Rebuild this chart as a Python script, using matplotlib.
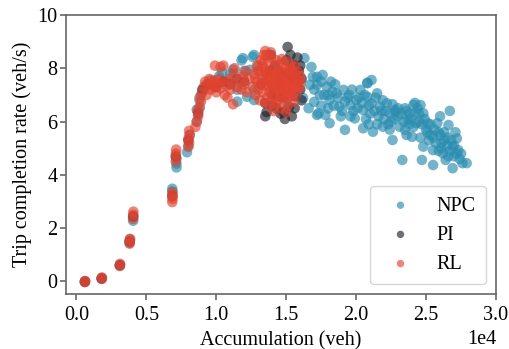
import matplotlib
matplotlib.use("Agg")
import matplotlib.pyplot as plt

# ---------------- data ----------------
npc_x = [600, 1800, 3100, 3800, 3820, 4050, 4060, 6850, 6850, 7150, 7150, 7150,
         7900, 8000, 8100, 8600, 8600, 8800, 8800, 8900, 9100, 9300, 9600, 9900,
         10200, 10400, 10700, 11000, 11200, 11500, 11500, 11800, 12000, 12200, 12400,
         12600, 12700, 12700, 12700, 11900,
         13000, 13500, 14000, 14500, 15000, 15500, 16200, 16300, 16600, 16700, 16800,
         17000, 17200, 17200,
         16900, 17600, 17200, 17900, 18300, 17400, 18100, 18600, 19100, 19200, 18800,
         19600, 20000, 20300, 20800, 20800, 20500, 21100, 21500, 21700, 22200, 22400,
         22800, 17300, 17800, 18100, 19200, 19900, 20500, 21200, 21900, 22600,
         22800, 23500, 24100, 24600, 24200, 24800, 23700, 23100, 24000, 25100, 25800,
         25300, 26000, 26600, 26700, 24800, 25500, 26200, 26900, 27300, 26400, 26900,
         27600, 27900, 23300, 24700, 25500, 27200, 24300, 23500,
         20800, 21100,
         18500, 19500, 20100, 21000, 21400, 22000, 22500, 23000, 23800, 24500, 25000,
         25600, 26300, 26500, 27000, 27400, 23800, 22600, 19800, 18400, 17700, 20700,
         21800, 25200, 26100, 27100, 24400, 26000,
         17000, 17500, 18000, 18200, 18700, 19000, 19400, 19700, 20200, 20400, 20600,
         20900, 21300, 21600, 21900, 22100, 22300, 22700, 23000, 23200, 23400, 23600,
         23900, 24100, 24200, 24500, 24700, 24900, 25100, 25300, 25500, 25700, 25900,
         26100, 26300, 26500, 26700, 26800, 27000, 27200, 27500, 26600, 25900, 24600,
         23600, 22400, 21500, 20900, 19600, 18900, 18000, 17500]
npc_y = [-0.02, 0.10, 0.60, 1.45, 1.58, 2.28, 2.42, 3.38, 3.48, 4.28, 4.42, 4.60,
         4.85, 5.10, 5.50, 6.00, 6.45, 6.50, 6.80, 7.00, 7.20, 7.40, 7.55, 7.30,
         7.70, 7.85, 7.50, 7.80, 7.95, 7.20, 6.75, 8.30, 7.90, 6.93, 7.94,
         8.43, 8.50, 6.81, 7.19, 8.38,
         8.10, 7.60, 7.30, 7.50, 7.20, 7.80, 6.89, 8.38, 6.50, 7.38, 8.05,
         6.74, 7.68, 6.25,
         7.68, 7.75, 7.38, 7.31, 7.12, 7.00, 6.81, 7.06, 7.19, 6.75, 6.56,
         6.62, 6.81, 7.19, 7.44, 6.93, 6.44, 6.69, 7.06, 6.56, 6.69, 6.31,
         6.44, 6.31, 6.25, 5.94, 5.69, 6.12, 5.75, 5.62, 5.81, 5.31,
         6.37, 6.50, 6.62, 6.62, 6.31, 6.31, 6.06, 5.81, 5.43, 5.94, 5.94,
         5.50, 5.50, 5.87, 6.40, 5.06, 4.93, 4.81, 5.06, 4.93, 4.56, 4.25,
         4.44, 4.44, 4.56, 4.56, 4.37, 5.37, 5.94, 5.69,
         7.46, 7.56,
         7.40, 7.00, 6.50, 6.30, 6.90, 6.10, 6.00, 6.20, 6.30, 6.00, 5.70,
         5.70, 5.30, 5.10, 4.70, 4.60, 5.90, 6.65, 6.40, 6.60, 7.00, 6.10,
         6.40, 5.30, 5.20, 5.60, 6.50, 6.20,
         7.20, 7.50, 7.00, 7.50, 6.90, 6.40, 6.90, 7.20, 6.90, 6.70, 7.00,
         6.60, 6.40, 6.20, 6.80, 6.40, 5.90, 6.10, 6.50, 6.30, 6.00, 6.40,
         6.10, 5.80, 6.70, 6.30, 5.90, 6.10, 5.60, 5.90, 5.40, 5.20, 5.60,
         5.00, 5.60, 5.40, 4.90, 5.30, 5.10, 4.80, 4.80, 4.70, 4.90, 5.40,
         5.50, 5.70, 5.90, 5.90, 6.20, 6.20, 6.50, 6.60]

pi_x = [600, 1800, 3100, 3800, 4050, 6850, 7100, 8000, 8700, 9000, 9500, 10000,
        10500, 11000, 11500, 12000,
        13200, 13500, 13600, 13500, 13800, 14000, 14200, 14300, 14500, 14600, 14700,
        14800, 14800, 15000, 15100, 15100, 15200, 15400, 15400, 15500, 15600, 15600,
        15700, 15800, 15900, 16000, 16100, 16100, 14900, 14000, 13900, 15300, 16000,
        14400, 15200]
pi_y = [0.00, 0.12, 0.62, 1.50, 2.45, 3.20, 4.70, 5.30, 6.30, 7.20, 7.40, 7.30,
        7.50, 7.40, 7.60, 7.50,
        7.40, 6.70, 6.36, 6.20, 7.90, 7.00, 8.10, 6.50, 7.40, 6.30, 7.80,
        6.36, 6.90, 8.30, 8.80, 7.20, 6.55, 6.20, 7.60, 8.12, 6.50, 6.95,
        7.50, 8.40, 7.90, 7.20, 6.80, 7.60, 6.10, 6.60, 8.50, 8.50, 8.10,
        6.95, 7.80]

rl_x = [600, 620, 1800, 1820, 3100, 3120, 3800, 3820, 3830, 4050, 4060, 4070,
        6850, 6870, 6880, 6860, 7100, 7120, 7110, 7130,
        8000, 8050, 8000, 8100, 8050, 8500, 8600, 8700, 8650, 8800, 8900, 8800,
        9000, 9100, 9200, 9300, 9400, 9500, 9600, 9700, 9800, 9900, 10000, 10100,
        10200, 10300, 10300, 10500, 10600, 10700, 10800, 10900, 11000, 11100, 11200,
        11250, 11300, 11500, 11600, 11800, 11900, 12000, 12100, 12200, 12300, 9900, 10500,
        12600, 12700, 12800, 12900, 12900, 13000, 13100, 13100, 13200, 13300, 13300,
        13400, 13500, 13500, 13600, 13700, 13700, 13800, 13800, 13900, 13900, 14000,
        14000, 14100, 14200, 14200, 14300, 14300, 14400, 14400, 14500, 14500, 14600,
        14600, 14700, 14700, 14800, 14800, 14900, 14900, 15000, 15000, 15100, 15100,
        15200, 15200, 15300, 15300, 15400, 15400, 15500, 15500, 15600, 15600, 15700,
        15800, 15900, 16000, 13600, 14100, 15000, 13500, 13900, 14200, 14600, 15200,
        12800, 13000, 13200, 13400, 13600, 13800, 14000, 14200, 14400, 14600, 14800,
        15000, 15200, 15400, 15600, 15800, 16000, 13300, 13700, 14100, 14500, 14900,
        15300, 15700, 13500, 14300, 15100, 15900]
rl_y = [-0.02, 0.02, 0.10, 0.15, 0.58, 0.66, 1.42, 1.52, 1.60, 2.35, 2.50, 2.62,
        2.98, 3.10, 3.25, 3.35, 4.50, 4.65, 4.80, 4.95,
        5.05, 5.20, 5.35, 5.50, 5.65, 5.80, 6.00, 6.20, 6.40, 6.55, 6.75, 6.90,
        7.10, 7.30, 7.50, 7.00, 7.40, 7.60, 7.20, 7.45, 7.30, 7.55, 7.10, 7.40,
        7.60, 7.25, 8.05, 7.50, 7.00, 7.35, 6.90, 7.60, 7.20, 7.45, 6.65,
        7.80, 8.00, 7.30, 7.55, 7.20, 7.70, 7.40, 7.90, 7.10, 7.60, 8.10, 8.10,
        7.30, 7.80, 7.00, 8.10, 7.50, 7.20, 7.90, 6.80, 8.30, 7.60, 7.10,
        8.50, 7.85, 7.35, 6.90, 8.20, 7.60, 7.10, 6.60, 8.40, 7.85, 7.40,
        6.95, 8.00, 7.65, 7.20, 8.30, 6.70, 7.90, 7.45, 7.00, 8.15, 7.60,
        6.50, 7.25, 8.35, 7.80, 6.85, 7.40, 8.05, 7.10, 7.65, 8.25, 6.60,
        7.85, 7.30, 6.95, 8.00, 7.55, 7.15, 7.80, 6.75, 7.40, 8.10, 7.00,
        7.60, 7.25, 7.70, 8.50, 6.40, 6.35, 8.65, 8.60, 7.75, 7.05, 7.95,
        7.60, 7.90, 7.40, 8.00, 7.70, 7.30, 7.80, 7.50, 7.20, 7.90, 7.50,
        7.40, 7.10, 7.90, 7.30, 7.90, 7.40, 8.20, 7.50, 7.30, 7.70, 7.20,
        7.60, 7.30, 6.70, 6.80, 6.90, 7.50]

series = ["NPC", "PI", "RL"]
colors = ["#2a8db0", "#20202c", "#e2432f"]

# ---------------- figure ----------------
plt.rcParams["font.family"] = ["Liberation Serif", "DejaVu Serif"]
plt.rcParams["font.size"] = 14.5

fig = plt.figure(figsize=(5.10, 3.49), dpi=100)
ax = fig.add_axes([66 / 510, 1 - 294 / 349, 430 / 510, 279 / 349])

for name, xs, ys, c in zip(series, [npc_x, pi_x, rl_x], [npc_y, pi_y, rl_y], colors):
    ax.scatter(xs, ys, s=58, color=c, alpha=0.65, edgecolors="none", label=name)

ax.set_xlim(-750, 30000)
ax.set_ylim(-0.47, 10)
ax.set_xticks([0, 5000, 10000, 15000, 20000, 25000, 30000])
ax.set_yticks([0, 2, 4, 6, 8, 10])
ax.ticklabel_format(axis="x", style="sci", scilimits=(4, 4))

ax.set_xlabel("Accumulation (veh)", labelpad=4)
ax.set_ylabel("Trip completion rate (veh/s)", labelpad=4)

for sp in ax.spines.values():
    sp.set_color("#666666")
    sp.set_linewidth(1.2)
ax.tick_params(direction="out", length=4, width=1.2, color="#666666")
ax.tick_params(axis="x", pad=5)
ax.tick_params(axis="y", pad=2)

leg = ax.legend(loc="lower right", markerscale=0.7, frameon=True, fancybox=True,
                edgecolor="#cccccc", handletextpad=0.8, borderpad=0.5)

fig.savefig("out.png", dpi=100)
